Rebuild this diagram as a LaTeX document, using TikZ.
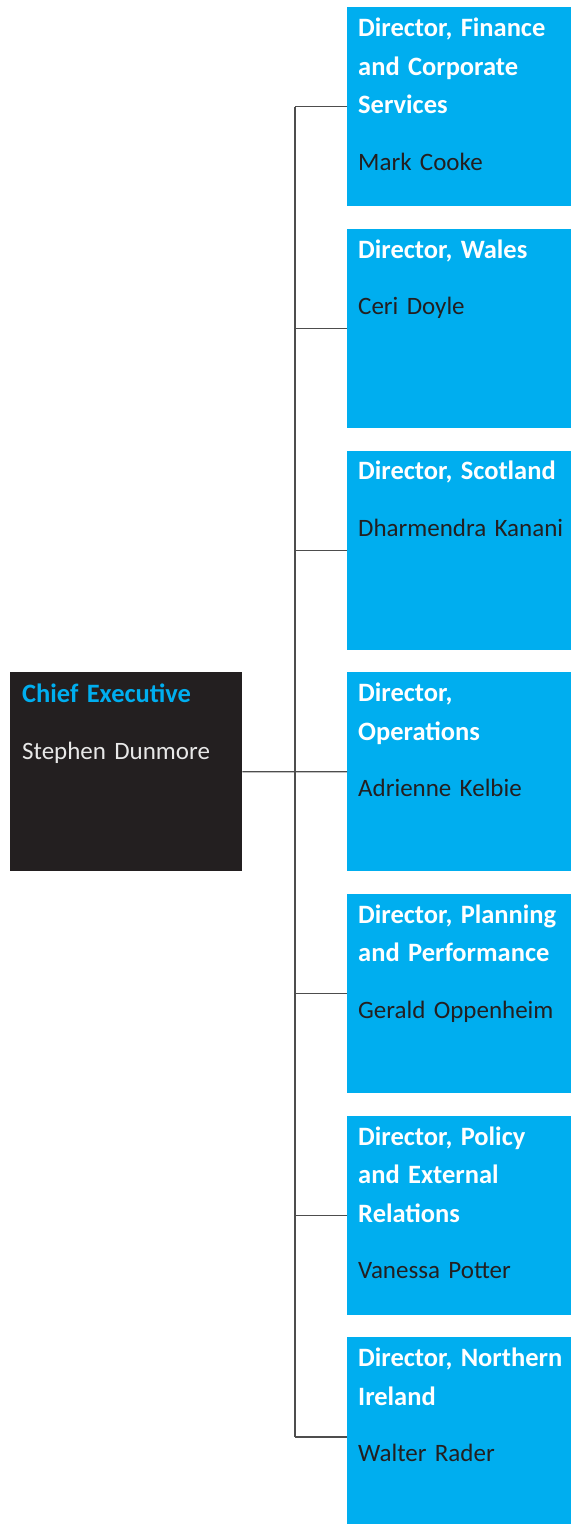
\documentclass[tikz,border=0pt]{standalone}
\usepackage{fontspec}
\setmainfont{Carlito}
\frenchspacing
\usetikzlibrary{positioning}

\definecolor{orgblue}{HTML}{00AEEF}
\definecolor{orgblack}{HTML}{231F20}
\definecolor{lightname}{HTML}{E8E8E8}
\definecolor{linegray}{HTML}{4D4D4D}

\newcommand{\posttitle}{\fontsize{26.5}{38.5}\selectfont\bfseries}
\tikzset{
  postbox/.style={fill=orgblue, minimum width=224pt, minimum height=199pt, inner sep=0pt},
  headbox/.style={postbox, fill=orgblack, minimum width=232pt},
  boxtext/.style={anchor=base west, inner sep=0pt, text width=220pt, align=left,
    font=\fontsize{25}{38.5}\selectfont},
  link/.style={draw=linegray, line width=1.2pt}
}

\begin{document}
\begin{tikzpicture}[x=1pt,y=1pt]
  \useasboundingbox (0,0) rectangle (571,-1524);

  % Chief Executive
  \node[headbox, anchor=north west] (chief) at (10,-672) {};
  \node[boxtext] (chieftext) at ([shift={(12,-30.7)}]chief.north west)
    {{\posttitle\color{orgblue}Chief Executive}\\[17.8pt]{\color{lightname}Stephen Dunmore}};

  % Directors
  \node[postbox, anchor=north west] (d1) at (347,-7) {};
  \node[postbox, below=22.3pt of d1] (d2) {};
  \node[postbox, below=22.3pt of d2] (d3) {};
  \node[postbox, below=22.3pt of d3] (d4) {};
  \node[postbox, below=22.3pt of d4] (d5) {};
  \node[postbox, below=22.3pt of d5] (d6) {};
  \node[postbox, below=22.3pt of d6] (d7) {};

  % Labels
  \node[boxtext] (d1text) at ([shift={(11,-29.5)}]d1.north west)
    {{\posttitle\color{white}Director, Finance\\and Corporate\\Services}\\[18pt]{\color{orgblack}Mark Cooke}};
  \node[boxtext] (d2text) at ([shift={(11,-29.5)}]d2.north west)
    {{\posttitle\color{white}Director, Wales}\\[18pt]{\color{orgblack}Ceri Doyle}};
  \node[boxtext] (d3text) at ([shift={(11,-29.5)}]d3.north west)
    {{\posttitle\color{white}Director, Scotland}\\[18pt]{\color{orgblack}Dharmendra Kanani}};
  \node[boxtext] (d4text) at ([shift={(11,-29.5)}]d4.north west)
    {{\posttitle\color{white}Director,\\Operations}\\[18pt]{\color{orgblack}Adrienne Kelbie}};
  \node[boxtext] (d5text) at ([shift={(11,-29.5)}]d5.north west)
    {{\posttitle\color{white}Director, Planning\\and Performance}\\[18pt]{\color{orgblack}Gerald Oppenheim}};
  \node[boxtext] (d6text) at ([shift={(11,-29.5)}]d6.north west)
    {{\posttitle\color{white}Director, Policy\\and External\\Relations}\\[18pt]{\color{orgblack}Vanessa Potter}};
  \node[boxtext] (d7text) at ([shift={(11,-29.5)}]d7.north west)
    {{\posttitle\color{white}Director, Northern\\Ireland}\\[18pt]{\color{orgblack}Walter Rader}};

  % Connectors
  \coordinate[right=52.5pt of chief.east] (trunk);
  \draw[link] (chief.east) -- (d4.west);
  \draw[link] (d1.west -| trunk) -- (d7.west -| trunk);
  \foreach \i in {1,...,7}
    \draw[link] (d\i.west) -- (d\i.west -| trunk);

\end{tikzpicture}
\end{document}
